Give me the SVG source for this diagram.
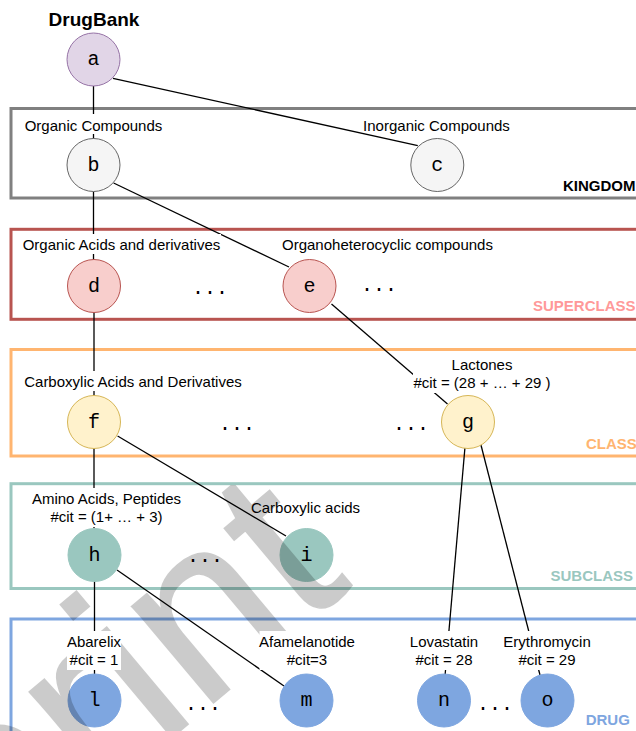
<svg xmlns="http://www.w3.org/2000/svg" width="636" height="731" viewBox="0 0 636 731">
<style>
.lbl{font-family:"Liberation Sans",Arial,sans-serif;font-size:15px;fill:#000;text-anchor:middle}
.ttl{font-family:"Liberation Sans",Arial,sans-serif;font-size:15px;font-weight:bold}
.nl{font-family:"Liberation Mono","Courier New",monospace;font-size:20px;fill:#000;text-anchor:middle}
.dots{font-family:"Liberation Mono","Courier New",monospace;font-size:20px;fill:#000}
.box{fill:none;stroke-width:3}
.bg{fill:#fff}
.edge{stroke:#000;stroke-width:1.3;fill:none}
</style>
<defs>
<clipPath id="wmclip"><rect x="0" y="485" width="636" height="246"/></clipPath>
</defs>
<rect width="636" height="731" fill="#fff"/>
<g id="layers">
<rect class="box" x="11" y="108.5" width="640" height="89.5" stroke="#808080"/>
<text class="ttl" x="563" y="191" fill="#000">KINGDOM</text>
<rect class="box" x="11" y="229.3" width="640" height="90" stroke="#b85450"/>
<text class="ttl" x="533" y="311" fill="#f99">SUPERCLASS</text>
<rect class="box" x="11" y="349.5" width="640" height="106.5" stroke="#ffb570"/>
<text class="ttl" x="586" y="449" fill="#ffb570">CLASS</text>
<rect class="box" x="11" y="483.7" width="640" height="104.8" stroke="#9ac7bf"/>
<text class="ttl" x="550.5" y="581" fill="#9ac7bf">SUBCLASS</text>
<rect class="box" x="11" y="619" width="640" height="140" stroke="#7ea6e0"/>
<text class="ttl" x="585.7" y="725" fill="#7ea6e0">DRUG</text>
</g>
<g id="connectors" class="edge">
<line x1="93.5" y1="86" x2="93.5" y2="139"/>
<line x1="113" y1="78.3" x2="417.8" y2="145.7"/>
<line x1="93.5" y1="191.5" x2="93.5" y2="260"/>
<line x1="113.6" y1="183" x2="289" y2="267"/>
<line x1="94" y1="312.5" x2="94" y2="396"/>
<line x1="331.5" y1="304" x2="447.5" y2="404"/>
<line x1="94" y1="448" x2="94" y2="528.5"/>
<line x1="117.6" y1="436" x2="286" y2="536"/>
<line x1="465" y1="447" x2="445" y2="676"/>
<line x1="480.7" y1="444" x2="540" y2="675"/>
<line x1="94.5" y1="581.5" x2="94.5" y2="674"/>
<line x1="117" y1="570" x2="284" y2="686"/>
</g>
<g id="node-a"><text class="ttl" x="94" y="26" text-anchor="middle" style="font-size:19px">DrugBank</text><circle cx="93.5" cy="59.5" r="26.5" fill="#e1d5e7" stroke="#9673a6"/><text class="nl" x="93.5" y="65">a</text></g>
<g id="node-b"><rect class="bg" x="25" y="114" width="137" height="20"/><text class="lbl" x="93.5" y="130.5">Organic Compounds</text><circle cx="93.5" cy="165" r="26.5" fill="#f5f5f5" stroke="#666"/><text class="nl" x="93.5" y="170.5">b</text></g>
<g id="node-c"><text class="lbl" x="436.5" y="130.5">Inorganic Compounds</text><circle cx="437.3" cy="165" r="26.5" fill="#f5f5f5" stroke="#666"/><text class="nl" x="437.3" y="170.5">c</text></g>
<g id="node-d"><rect class="bg" x="22" y="234" width="199" height="20"/><text class="lbl" x="121.5" y="250">Organic Acids and derivatives</text><circle cx="94" cy="286" r="26.5" fill="#f8cecc" stroke="#b85450"/><text class="nl" x="94" y="291.5">d</text></g>
<text class="dots" x="192" y="294">...</text>
<g id="node-e"><text class="lbl" x="387.5" y="250">Organoheterocyclic compounds</text><circle cx="309.5" cy="286" r="26.5" fill="#f8cecc" stroke="#b85450"/><text class="nl" x="309.5" y="291.5">e</text></g>
<text class="dots" x="361" y="291">...</text>
<g id="node-f"><rect class="bg" x="24" y="371" width="218" height="20"/><text class="lbl" x="133" y="387">Carboxylic Acids and Derivatives</text><circle cx="94" cy="422" r="26.5" fill="#fff2cc" stroke="#d6b656"/><text class="nl" x="94" y="427.5">f</text></g>
<text class="dots" x="219" y="430">...</text>
<text class="dots" x="393" y="430">...</text>
<g id="node-g"><rect class="bg" x="413" y="353" width="138" height="40"/><text class="lbl" x="482" y="369.5">Lactones</text><text class="lbl" x="482" y="387.5">#cit = (28 + … + 29 )</text><circle cx="468" cy="422" r="26.5" fill="#fff2cc" stroke="#d6b656"/><text class="nl" x="468" y="427.5">g</text></g>
<g id="node-h"><circle cx="94.5" cy="555" r="26.5" fill="#9ac7bf" stroke="#9ac7bf"/><text class="nl" x="94.5" y="560.5">h</text></g>
<text class="dots" x="187" y="562">...</text>
<g id="node-i"><circle cx="306.5" cy="555" r="26.5" fill="#9ac7bf" stroke="#9ac7bf"/><text class="nl" x="306.5" y="560.5">i</text></g>
<g id="node-l"><circle cx="94.5" cy="700.5" r="26.5" fill="#7ea6e0" stroke="#7ea6e0"/><text class="nl" x="94.5" y="706">l</text></g>
<text class="dots" x="185" y="710">...</text>
<g id="node-m"><circle cx="306.5" cy="700.5" r="26.5" fill="#7ea6e0" stroke="#7ea6e0"/><text class="nl" x="306.5" y="706">m</text></g>
<g id="node-n"><circle cx="444" cy="700.5" r="26.5" fill="#7ea6e0" stroke="#7ea6e0"/><text class="nl" x="444" y="706">n</text></g>
<text class="dots" x="477" y="710">...</text>
<g id="node-o"><circle cx="547.5" cy="700.5" r="26.5" fill="#7ea6e0" stroke="#7ea6e0"/><text class="nl" x="547.5" y="706">o</text></g>
<g id="watermark" opacity="0.2" clip-path="url(#wmclip)"><text x="0" y="0" transform="translate(354,585) rotate(-40)" text-anchor="end" style="font-family:'Liberation Sans',Arial,sans-serif;font-size:240px" fill="#000" stroke="#000" stroke-width="1.5">Preprint</text></g>
<g id="labels-lower">
<rect class="bg" x="31.5" y="488" width="150" height="39"/><text class="lbl" x="106.5" y="504">Amino Acids, Peptides</text><text class="lbl" x="106.5" y="522">#cit = (1+ … + 3)</text>
<text class="lbl" x="305.5" y="513">Carboxylic acids</text>
<rect class="bg" x="67" y="631" width="54" height="39"/><text class="lbl" x="94" y="647">Abarelix</text><text class="lbl" x="94" y="665">#cit = 1</text>
<rect class="bg" x="259.5" y="631" width="95" height="39"/><text class="lbl" x="307" y="647">Afamelanotide</text><text class="lbl" x="307" y="665">#cit=3</text>
<rect class="bg" x="410" y="631" width="68" height="39"/><text class="lbl" x="444" y="647">Lovastatin</text><text class="lbl" x="444" y="665">#cit = 28</text>
<rect class="bg" x="503.5" y="631" width="87.5" height="39"/><text class="lbl" x="547" y="647">Erythromycin</text><text class="lbl" x="547" y="665">#cit = 29</text>
</g>
</svg>
